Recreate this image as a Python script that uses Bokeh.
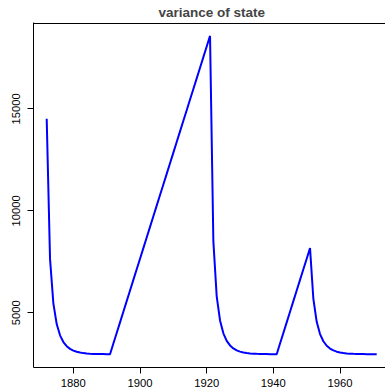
from bokeh.plotting import figure
from bokeh.models import FixedTicker, Range1d, LinearAxis
from bokeh.embed import file_html
from bokeh.resources import INLINE

years = list(range(1872, 1972))
variance = [
    14510, 7643, 5463, 4449, 3896, 3567, 3362, 3231, 3145, 3088,
    3050, 3024, 3006, 2994, 2986, 2981, 2977, 2975, 2973, 2972,
    3492, 4012, 4532, 5052, 5572, 6092, 6612, 7132, 7652, 8172,
    8692, 9212, 9732, 10252, 10772, 11292, 11812, 12332, 12852, 13372,
    13892, 14412, 14932, 15452, 15972, 16492, 17012, 17532, 18052, 18572,
    8499, 5807, 4624, 3995, 3628, 3401, 3256, 3161, 3098, 3056,
    3028, 3010, 2997, 2988, 2982, 2978, 2976, 2974, 2973, 2972,
    3492, 4012, 4532, 5052, 5572, 6092, 6612, 7132, 7652, 8172,
    5679, 4559, 3958, 3605, 3386, 3248, 3156, 3095, 3054, 3027,
    3009, 2997, 2988, 2982, 2978, 2976, 2974, 2973, 2972, 2972,
]
x_ticks = [1880, 1900, 1920, 1940, 1960]
y_ticks = [5000, 10000, 15000]
title_text = "variance of state"
box_top = [19160]   # upper side of the plot box (data units)

FONT = "Liberation Sans"

p = figure(width=385, height=391, output_backend="svg", toolbar_location=None,
           x_range=Range1d(1868.04, 1973.64), y_range=Range1d(2319, 19230),
           min_border_left=33, min_border_right=0, min_border_top=22, min_border_bottom=24,
           x_axis_type=None, y_axis_type=None)
p.background_fill_color = "white"
p.border_fill_color = "white"
p.outline_line_color = None
p.xgrid.visible = False
p.ygrid.visible = False

# top side of the plot box
p.hspan(y=box_top, line_color="black", line_width=1.2)

p.line(years, variance, line_color="#0000FF", line_width=2)

def style(ax, ticks):
    ax.ticker = FixedTicker(ticks=ticks)
    ax.minor_tick_line_color = None
    ax.axis_line_color = "black"
    ax.major_tick_line_color = "black"
    ax.major_tick_in = 0
    ax.major_tick_out = 6
    ax.major_label_text_font = FONT
    ax.major_label_text_font_size = "11.25px"
    ax.major_label_text_color = "black"

xa = LinearAxis()
style(xa, x_ticks)
xa.major_label_standoff = 5
p.add_layout(xa, "below")

ya = LinearAxis()
style(ya, y_ticks)
ya.major_label_orientation = "vertical"
ya.major_label_standoff = 7
p.add_layout(ya, "left")

p.title.text = title_text
p.title.text_font = FONT
p.title.text_font_size = "13.5px"
p.title.text_font_style = "bold"
p.title.align = "left"
p.title.offset = 125
p.title.standoff = 5

open("out.html", "w").write(file_html(p, INLINE))
